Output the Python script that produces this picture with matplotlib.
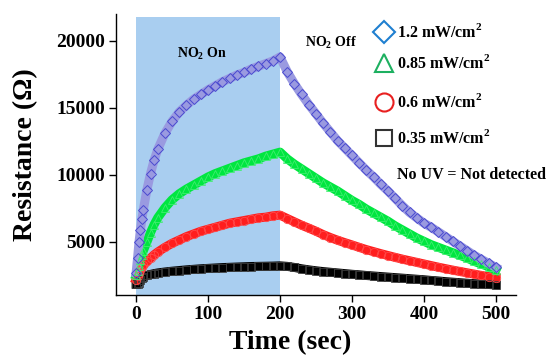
import matplotlib
matplotlib.use("Agg")
import matplotlib.pyplot as plt

plt.rcParams['font.family'] = ['Liberation Serif', 'DejaVu Serif']
plt.rcParams['font.weight'] = 'bold'
plt.rcParams['mathtext.fontset'] = 'custom'
plt.rcParams['mathtext.rm'] = 'Liberation Serif:bold'

time_s = [0, 2, 4, 6, 8, 10, 15, 20, 25, 30,
          40, 50, 60, 70, 80, 90, 100, 110, 120, 130, 140, 150, 160, 170, 180, 190, 200,
          210, 220, 230, 240, 250, 260, 270, 280, 290, 300, 310, 320, 330, 340, 350,
          360, 370, 380, 390, 400, 410, 420, 430, 440, 450, 460, 470, 480, 490, 500]

r_12 = [2700, 3800, 5000, 5900, 6700, 7400, 8900, 10100, 11100, 11900,
        13100, 14000, 14700, 15200, 15650, 16000, 16350, 16650, 16950, 17200, 17450, 17650, 17900, 18100, 18300, 18500, 18800,
        17700, 16800, 16000, 15250, 14550, 13850, 13200, 12550, 12000, 11450, 10900, 10350, 9850, 9300, 8800,
        8250, 7700, 7200, 6800, 6400, 6100, 5750, 5400, 5050, 4700, 4350, 4000, 3700, 3400, 3100]

r_085 = [2500, 2800, 3200, 3650, 4000, 4350, 5000, 5700, 6300, 6800,
         7550, 8150, 8600, 8950, 9250, 9550, 9850, 10100, 10300, 10500, 10700, 10900, 11050, 11200, 11400, 11550, 11700,
         11200, 10800, 10450, 10100, 9750, 9400, 9100, 8800, 8450, 8100, 7800, 7450, 7150, 6850, 6550,
         6200, 5900, 5600, 5300, 5050, 4800, 4600, 4400, 4200, 4000, 3800, 3550, 3350, 3150, 2900]

r_06 = [2200, 2450, 2700, 2900, 3100, 3250, 3550, 3800, 4050, 4250,
        4600, 4900, 5150, 5400, 5600, 5800, 5950, 6100, 6250, 6400, 6500, 6600, 6700, 6800, 6850, 6950, 7000,
        6750, 6500, 6250, 6030, 5800, 5550, 5330, 5130, 4950, 4780, 4600, 4430, 4280, 4130, 3990,
        3850, 3720, 3600, 3480, 3360, 3240, 3120, 3010, 2900, 2800, 2700, 2600, 2500, 2420, 2350]

r_035 = [1850, 1850, 1950, 2150, 2300, 2400, 2500, 2580, 2640, 2690,
         2760, 2820, 2870, 2920, 2960, 3000, 3030, 3060, 3090, 3110, 3130, 3150, 3170, 3180, 3190, 3200, 3220,
         3180, 3100, 3000, 2920, 2850, 2790, 2740, 2690, 2640, 2590, 2550, 2500, 2460, 2420, 2380,
         2340, 2300, 2260, 2220, 2180, 2130, 2090, 2040, 2000, 1960, 1920, 1890, 1860, 1830, 1800]

legend_labels = ['1.2 mW/cm$^2$', '0.85 mW/cm$^2$', '0.6 mW/cm$^2$', '0.35 mW/cm$^2$']
x_ticks = [0, 100, 200, 300, 400, 500]
y_ticks = [5000, 10000, 15000, 20000]

fig = plt.figure(figsize=(5.51, 3.55), dpi=100)
ax = fig.add_axes([0.2105, 0.169, 0.726, 0.7915])

ax.set_xlim(-28, 528)
ax.set_ylim(1045, 22000)

# NO2 on shading
ax.fill_between([0, 200], 1045, 21800, color='#a9cef0', lw=0, zorder=0)

LW = 6.5
# series: black, red, green, blue
ax.plot(time_s, r_035, color='black', lw=LW, zorder=2)
ax.plot(time_s, r_035, ls='none', marker='s', ms=6, mfc='none', mec='#3a3a3a', mew=0.6, zorder=3)

ax.plot(time_s, r_06, color='#ff1e1e', lw=LW, zorder=2)
ax.plot(time_s, r_06, ls='none', marker='o', ms=6, mfc='none', mec='#ff4a4a', mew=0.6, zorder=3)

ax.plot(time_s, r_085, color='#00e640', lw=LW, zorder=2)
ax.plot(time_s, r_085, ls='none', marker='^', ms=6, mfc='none', mec='#40ee70', mew=0.6, zorder=3)

ax.plot(time_s, r_12, color='#9a9ae0', lw=LW, zorder=2)
ax.plot(time_s, r_12, ls='none', marker='D', ms=5.5, mfc='none', mec='#4a4ad0', mew=0.7, zorder=3)

# spines
for s in ['top', 'right']:
    ax.spines[s].set_visible(False)
for s in ['left', 'bottom']:
    ax.spines[s].set_linewidth(1.0)

ax.set_xticks(x_ticks)
ax.set_yticks(y_ticks)
ax.tick_params(axis='both', direction='out', length=5, width=1, labelsize=14, pad=3)
for lab in ax.get_xticklabels() + ax.get_yticklabels():
    lab.set_fontweight('bold')

ax.set_xlabel('Time (sec)', fontsize=20, fontweight='bold', labelpad=0)
ax.xaxis.set_label_coords(0.435, -0.125)
ax.set_ylabel('Resistance (\u03a9)', fontsize=20, fontweight='bold')
ax.yaxis.set_label_coords(-0.195, 0.5)

ax.text(0.214, 0.86, 'NO$_2$ On', transform=ax.transAxes, fontsize=10, fontweight='bold',
        ha='center', va='center')
ax.text(0.537, 0.897, 'NO$_2$ Off', transform=ax.transAxes, fontsize=10, fontweight='bold',
        ha='center', va='center')

# custom legend
leg_markers = ['D', '^', 'o', 's']
leg_colors = ['#1f7fd0', '#1db060', '#e82020', '#333333']
leg_sizes = [11, 13, 13, 11]
leg_y = [0.935, 0.8246, 0.688, 0.56]
for mk, c, sz, yy, lab in zip(leg_markers, leg_colors, leg_sizes, leg_y, legend_labels):
    ax.plot([0.67], [yy], marker=mk, ms=sz, mfc='white', mec=c, mew=1.5,
            transform=ax.transAxes, clip_on=False, ls='none', zorder=5)
    ax.text(0.703, yy, lab, transform=ax.transAxes, fontsize=11.5, fontweight='bold',
            ha='left', va='center')
ax.text(0.703, 0.427, 'No UV = Not detected', transform=ax.transAxes, fontsize=11.5,
        fontweight='bold', ha='left', va='center')

fig.savefig('out.png', dpi=100)
